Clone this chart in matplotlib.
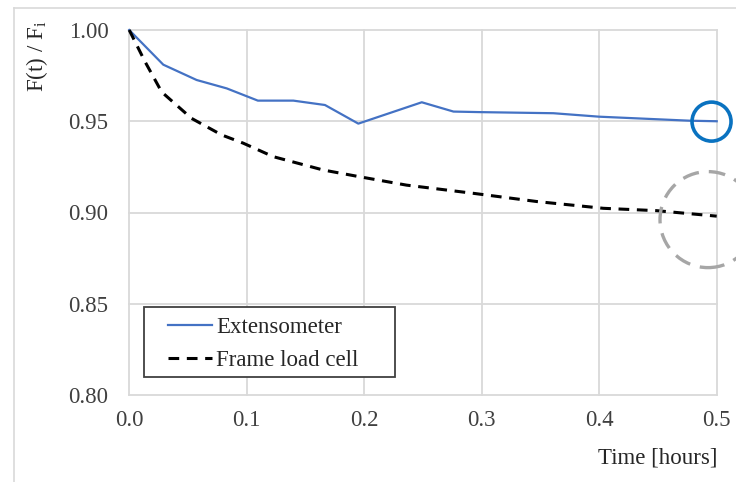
import matplotlib
matplotlib.use("Agg")
import matplotlib.pyplot as plt
from matplotlib.patches import Ellipse, Rectangle
from matplotlib.lines import Line2D

plt.rcParams['font.family'] = ['Liberation Serif', 'DejaVu Serif']
plt.rcParams['mathtext.fontset'] = 'custom'
plt.rcParams['mathtext.rm'] = 'Liberation Serif'
plt.rcParams['mathtext.it'] = 'Liberation Serif:italic'

# Data
ext_t = [0.0, 0.029, 0.0574, 0.083, 0.1095, 0.1397, 0.1666, 0.195, 0.249, 0.276, 0.2986, 0.361, 0.40, 0.477, 0.5]
ext_f = [1.0, 0.981, 0.9726, 0.968, 0.9613, 0.9613, 0.9589, 0.9487, 0.9604, 0.9553, 0.955, 0.9544, 0.9525, 0.9503, 0.950]
flc_t = [0.0, 0.0135, 0.0277, 0.053, 0.0787, 0.097, 0.1226, 0.165, 0.196, 0.236, 0.293, 0.347, 0.4035, 0.449, 0.5]
flc_f = [1.0, 0.9826, 0.966, 0.9516, 0.9425, 0.938, 0.9306, 0.9233, 0.9196, 0.915, 0.9105, 0.906, 0.9023, 0.901, 0.898]
series_labels = ["Extensometer", "Frame load cell"]
x_ticks = [0.0, 0.1, 0.2, 0.3, 0.4, 0.5]
x_ticklabels = ["0.0", "0.1", "0.2", "0.3", "0.4", "0.5"]
y_ticks = [0.80, 0.85, 0.90, 0.95, 1.00]
y_ticklabels = ["0.80", "0.85", "0.90", "0.95", "1.00"]

FS = 16.5
W, H = 736, 482
fig = plt.figure(figsize=(W / 100, H / 100), dpi=100)
fig.patch.set_facecolor('white')

# outer chart border (light gray, cropped at right/bottom)
fig.add_artist(Line2D([14 / W, 14 / W], [0, 1 - 8 / H], transform=fig.transFigure, color='#D9D9D9', lw=1.2))
fig.add_artist(Line2D([14 / W, 1], [1 - 8 / H, 1 - 8 / H], transform=fig.transFigure, color='#D9D9D9', lw=1.2))

left, right, top, bottom = 129.2, 716.7, 30, 395
ax = fig.add_axes([left / W, 1 - bottom / H, (right - left) / W, (bottom - top) / H])
ax.set_xlim(0, 0.5)
ax.set_ylim(0.8, 1.0)
for s in ax.spines.values():
    s.set_visible(False)
ax.set_xticks(x_ticks)
ax.set_xticklabels(x_ticklabels)
ax.set_yticks(y_ticks)
ax.set_yticklabels(y_ticklabels)
ax.tick_params(length=0, labelsize=FS, labelcolor='#404040')
ax.tick_params(axis='y', pad=15)
ax.tick_params(axis='x', pad=11)
ax.grid(True, color='#D9D9D9', lw=1.3, clip_on=False)
ax.set_axisbelow(True)

ax.plot(ext_t, ext_f, color='#4472C4', lw=1.6, label=series_labels[0], clip_on=False, zorder=3)
ax.plot(flc_t, flc_f, color='black', lw=2.2, ls=(0, (3.5, 2.5)), label=series_labels[1], clip_on=False, zorder=3)

# highlight circles
ax.add_patch(Ellipse((0.4956, 0.9498), 39 / 1175, 39 / 1825, fill=False, ec='#0A72C0', lw=2.6, clip_on=False, zorder=4))
ax.add_patch(Ellipse((0.4926, 0.8961), 96 / 1175, 96 / 1825, fill=False, ec='#A6A6A6', lw=2.4, ls=(0, (5, 3)), clip_on=False, zorder=4))

# legend frame
lx0, lx1, ly0, ly1 = 144, 395, 307, 377
ax.add_patch(Rectangle((lx0 / W, 1 - ly1 / H), (lx1 - lx0) / W, (ly1 - ly0) / H, transform=fig.transFigure,
                       facecolor='white', edgecolor='#404040', lw=1.3, zorder=5, clip_on=False))

leg = ax.legend(loc='upper left', bbox_to_anchor=((168 - left) / (right - left), (bottom - 317) / (bottom - top)),
                frameon=False, fontsize=FS, handlelength=1.9, handletextpad=0.2, borderpad=0,
                labelspacing=0.5, borderaxespad=0)
leg.set_zorder(6)
for t in leg.get_texts():
    t.set_color('#262626')

fig.text(37 / W, 1 - 56 / H, r'F(t) / F$_\mathrm{i}$', rotation=90, ha='center', va='center', fontsize=FS, color='#262626')
fig.text(717 / W, 1 - 458 / H, 'Time [hours]', ha='right', va='center', fontsize=FS, color='#262626')

fig.savefig('out.png', dpi=100, facecolor='white')
